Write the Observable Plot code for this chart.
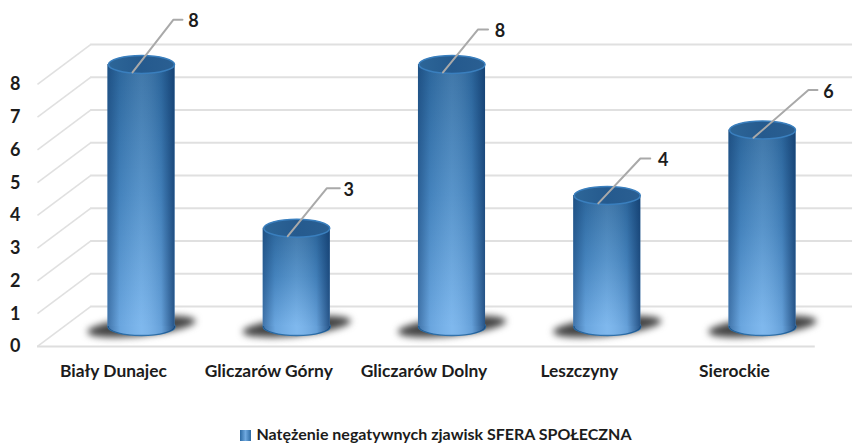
<!DOCTYPE html>
<html>
<head>
<meta charset="utf-8">
<script src="https://cdn.jsdelivr.net/npm/d3@7"></script>
<script src="https://cdn.jsdelivr.net/npm/@observablehq/plot@0.6"></script>
<style>
  html, body { margin: 0; padding: 0; background: #fff; }
  #legend { position: absolute; left: 9px; top: 424px; width: 854px; text-align: center; font: 700 16px Lato, sans-serif; color: #1c1c1c; line-height: 20px; white-space: nowrap; }
  #legend i { display: inline-block; width: 11px; height: 11px; margin-right: 5px; vertical-align: -1px; background: linear-gradient(90deg, #2c6aa3, #6fa9e0 50%, #2c6aa3); }
</style>
</head>
<body>
<div id="chart"></div>
<div id="legend"><i></i>Natężenie negatywnych zjawisk SFERA SPOŁECZNA</div>
<script>
const categories = ["Biały Dunajec", "Gliczarów Górny", "Gliczarów Dolny", "Leszczyny", "Sierockie"];
const values = [8, 3, 8, 4, 6];
const yTicks = [0, 1, 2, 3, 4, 5, 6, 7, 8];

// layout of the pseudo-3D drawing, in scale units
const depth = 0.61, halfBar = 0.216;
const wallFront = -0.67, wallBack = -0.328, backEnd = 4.58, floorEnd = 4.34;
const leaderElbowX = [0.206, 0.193, 0.168, 0.213, 0.296];
const leaderEndX = [0.264, 0.277, 0.232, 0.277, 0.354];
const labelX = [0.335, 0.335, 0.309, 0.361, 0.425];
const leaderRise = [1.37, 1.22, 1.07, 1.13, 1.22];

const rows = categories.map((name, i) => ({name, i, v: values[i]}));
const leaders = rows.flatMap((d) => [
  {i: d.i, x: d.i - 0.058, y: d.v - 0.24},
  {i: d.i, x: d.i + leaderElbowX[d.i], y: d.v + leaderRise[d.i]},
  {i: d.i, x: d.i + leaderEndX[d.i], y: d.v + leaderRise[d.i]}
]);

// an ellipse symbol: ratio = height/width, shear tilts it like a floor shadow
const ellipseSymbol = (ratio, shear) => ({
  draw(c, size) {
    const rx = Math.sqrt(size / Math.PI), ry = rx * ratio, k = 0.5523;
    const Y = (x, y) => y - x * shear;
    c.moveTo(-rx, Y(-rx, 0));
    c.bezierCurveTo(-rx, Y(-rx, -ry * k), -rx * k, Y(-rx * k, -ry), 0, Y(0, -ry));
    c.bezierCurveTo(rx * k, Y(rx * k, -ry), rx, Y(rx, -ry * k), rx, Y(rx, 0));
    c.bezierCurveTo(rx, Y(rx, ry * k), rx * k, Y(rx * k, ry), 0, Y(0, ry));
    c.bezierCurveTo(-rx * k, Y(-rx * k, ry), -rx, Y(-rx, ry * k), -rx, Y(-rx, 0));
    c.closePath();
  }
});
const ellipse = ellipseSymbol(0.27, 0);
const shadow = ellipseSymbol(0.17, 0.1);

const defs = () => d3.create("svg:defs").html(`
  <linearGradient id="body" x1="0" y1="0" x2="0" y2="1">
    <stop offset="0" stop-color="#2f6ba1"/><stop offset="0.5" stop-color="#4a8bc6"/><stop offset="1" stop-color="#74b2ec"/>
  </linearGradient>
  <linearGradient id="shade" x1="0" y1="0" x2="1" y2="0">
    <stop offset="0" stop-color="#0d3566" stop-opacity="0.5"/>
    <stop offset="0.18" stop-color="#0d3566" stop-opacity="0.1"/>
    <stop offset="0.5" stop-color="#ffffff" stop-opacity="0.08"/>
    <stop offset="0.8" stop-color="#0d3566" stop-opacity="0.15"/>
    <stop offset="1" stop-color="#0d3566" stop-opacity="0.75"/>
  </linearGradient>
  <linearGradient id="cap" x1="0" y1="0" x2="1" y2="0">
    <stop offset="0" stop-color="#2d6698"/><stop offset="0.5" stop-color="#255a8e"/><stop offset="1" stop-color="#2a5f92"/>
  </linearGradient>`).node();

const chart = Plot.plot({
  width: 854,
  height: 420,
  marginLeft: 20,
  marginRight: 0,
  marginTop: 0,
  marginBottom: 60,
  style: {background: "transparent", fontFamily: "Lato, sans-serif"},
  x: {type: "linear", domain: [0, 4], range: [141, 762]},
  y: {domain: [0, 8], range: [326, 64]},
  marks: [
    defs,
    Plot.link(yTicks, {x1: wallFront, x2: wallBack, y1: (v) => v - depth, y2: (v) => v + depth, stroke: "#e0e0e0", strokeWidth: 1.6}),
    Plot.ruleY(yTicks, {y: (v) => v + depth, x1: wallBack, x2: backEnd, stroke: "#e0e0e0", strokeWidth: 2}),
    Plot.ruleY([0], {y: -depth, x1: wallFront, x2: floorEnd, stroke: "#dedede", strokeWidth: 2}),
    Plot.dot(rows, {x: "i", y: 0, symbol: shadow, r: 54, fill: "#444444", imageFilter: "blur(3.5px)"}),
    Plot.dot(rows, {x: "i", y: 0, symbol: ellipse, r: 33.5, fill: "#74b2ec", stroke: "#2a6ea9", strokeWidth: 1.5}),
    Plot.dot(rows, {x: "i", y: 0, symbol: ellipse, r: 33.5, fill: "url(#shade)"}),
    Plot.rect(rows, {x1: (d) => d.i - halfBar, x2: (d) => d.i + halfBar, y1: 0, y2: "v", fill: "url(#body)"}),
    Plot.rect(rows, {x1: (d) => d.i - halfBar, x2: (d) => d.i + halfBar, y1: 0, y2: "v", fill: "url(#shade)"}),
    Plot.dot(rows, {x: "i", y: "v", symbol: ellipse, r: 33, fill: "url(#cap)", stroke: "#3a7fbe", strokeWidth: 1.5}),
    Plot.line(leaders, {x: "x", y: "y", z: "i", stroke: "#a9a9a9", strokeWidth: 2, curve: "linear"}),
    Plot.text(rows, {x: (d) => d.i + labelX[d.i], y: (d) => d.v + leaderRise[d.i], text: "v", fontSize: 18, fontWeight: 700, fill: "#1c1c1c", dy: 2}),
    Plot.axisY(yTicks, {anchor: "left", tickSize: 0, tickPadding: 0, dy: 20, dx: 0, fontSize: 18, fontWeight: 700, fill: "#1c1c1c", label: null}),
    Plot.axisX(d3.range(categories.length), {anchor: "bottom", tickSize: 0, tickPadding: 0, dx: -28, dy: 4, fontSize: 17.4, fontWeight: 700, fill: "#1c1c1c", label: null, tickFormat: (i) => categories[i]})
  ]
});
document.getElementById("chart").append(chart);
</script>
</body>
</html>
